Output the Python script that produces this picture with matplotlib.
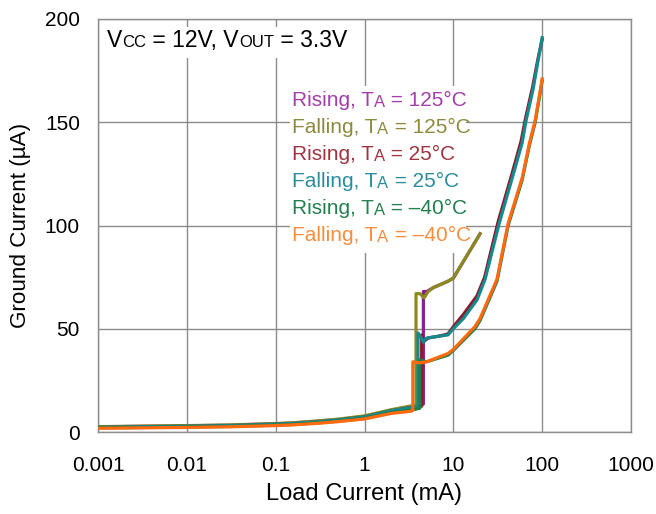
import matplotlib
matplotlib.use("Agg")
import matplotlib.pyplot as plt
from matplotlib.patches import Rectangle

plt.rcParams['font.family'] = ['Liberation Sans', 'DejaVu Sans']

# ---------------- data ----------------
x_ticks = [0.001, 0.01, 0.1, 1, 10, 100, 1000]
x_tick_labels = ["0.001", "0.01", "0.1", "1", "10", "100", "1000"]
y_ticks = [0, 50, 100, 150, 200]

low_x = [0.001, 0.01, 0.03, 0.1, 0.15, 0.3, 0.5, 1, 2, 3.5]

rise125_x = low_x + [4.6, 4.6, 5.0, 6, 8.7, 10, 20]
rise125_y = [2.5, 3.0, 3.3, 4.0, 4.3, 5.2, 6.0, 7.5, 10.5, 12.5,
             13.5, 68, 68, 70, 73, 74.5, 96]

fall125_x = low_x + [3.8, 3.8, 4.2, 4.7, 5.2, 6, 8.7, 10, 20]
fall125_y = [2.6, 3.1, 3.4, 4.1, 4.4, 5.4, 6.2, 7.8, 10.8, 12.8,
             13.0, 67, 67, 65, 68, 70, 73, 74.5, 96]

rise25_x = low_x + [4.4, 4.4, 4.7, 5.2, 7, 8.7, 10, 13, 18.5, 22.5, 32, 45, 58, 65, 78, 89, 100]
rise25_y = [2.2, 2.7, 3.0, 3.7, 4.0, 4.9, 5.7, 7.2, 10.2, 12.0,
            12.5, 47, 44, 45.5, 46.5, 47.5, 51, 57, 66, 75, 102, 124, 141, 152, 167, 180, 190]

fall25_x = low_x + [4.0, 4.0, 4.3, 4.6, 5.0, 6, 8.7, 10, 13, 18.5, 22.8, 32.8, 46, 59.5, 66, 79, 90, 100]
fall25_y = [2.3, 2.8, 3.1, 3.8, 4.1, 5.0, 5.8, 7.3, 10.3, 12.0,
            12.3, 48, 46, 43.5, 45.5, 46, 47, 50, 55, 64, 74, 101, 123, 140, 151, 166, 180, 191]

risem40_x = low_x + [4.2, 4.2, 5, 8.7, 10, 17.5, 20, 31, 41.4, 59.5, 72, 83.5, 100]
risem40_y = [2.0, 2.4, 2.7, 3.3, 3.6, 4.4, 5.2, 6.6, 9.4, 10.8,
             11.5, 35, 34, 37.2, 39.5, 50, 54, 73, 100, 122, 139, 150, 170]

fallm40_x = low_x[:-1] + [3.3, 3.5, 3.5, 4.2, 5, 8.7, 10, 17.5, 20, 31, 41.4, 59.5, 72, 83.5, 100]
fallm40_y = [1.8, 2.2, 2.5, 3.1, 3.4, 4.2, 5.0, 6.3, 9.0,
             10.0, 10.5, 34, 33.5, 34, 38, 40, 51, 55, 74, 101, 123, 140, 151, 171]

series = [
    ("Rising", "125", rise125_x, rise125_y, "#8E1C97", "#A23FA8"),
    ("Falling", "125", fall125_x, fall125_y, "#8A8A1E", "#8D8A3E"),
    ("Rising", "25", rise25_x, rise25_y, "#8A1A2C", "#A0333F"),
    ("Falling", "25", fall25_x, fall25_y, "#17898C", "#2A8D9E"),
    ("Rising", "\u201340", risem40_x, risem40_y, "#1C8045", "#23804F"),
    ("Falling", "\u201340", fallm40_x, fallm40_y, "#FF6A10", "#F98D3E"),
]

# ---------------- figure ----------------
W, H = 656, 514
fig = plt.figure(figsize=(W / 100, H / 100), dpi=100)
ax = fig.add_axes([98 / W, 1 - 432 / H, (631 - 98) / W, (432 - 19) / H])

for _, _, xs, ys, lc, _ in series:
    ax.plot(xs, ys, color=lc, lw=2.3, solid_joinstyle='round', zorder=3)

ax.set_xscale("log")
ax.set_xlim(0.001, 1000)
ax.set_ylim(0, 200)
ax.set_xticks(x_ticks)
ax.set_xticklabels(x_tick_labels)
ax.set_yticks(y_ticks)
ax.minorticks_off()
ax.tick_params(length=0, labelsize=15, colors="#000000")
ax.tick_params(axis='x', pad=17)
ax.tick_params(axis='y', pad=13)
ax.grid(True, color="#8C8C8C", lw=1.0, zorder=1)
ax.set_axisbelow(True)
for sp in ax.spines.values():
    sp.set_color("#8C8C8C")
    sp.set_linewidth(1.0)

ax.set_xlabel("Load Current (mA)", fontsize=17, labelpad=6)
ax.set_ylabel("Ground Current (\u00b5A)", fontsize=16.2, labelpad=10)

# white boxes hiding grid under annotations
def px_box(x0, y0, x1, y1):
    r = Rectangle((x0 / W, 1 - y1 / H), (x1 - x0) / W, (y1 - y0) / H,
                  transform=fig.transFigure, facecolor="white", edgecolor="none",
                  zorder=2)
    ax.add_artist(r)

px_box(101, 27, 350, 58)
px_box(290, 86, 466, 253)

renderer = fig.canvas.get_renderer()

def rich(x_px, y_px, pieces):
    x = x_px
    for s, size, dy, col in pieces:
        t = fig.text(x / W, 1 - (y_px - dy) / H, s, fontsize=size, color=col,
                     va="baseline", ha="left", zorder=5)
        x += t.get_window_extent(renderer).width

rich(107, 47, [("V", 16.5, 0, "black"), ("CC", 12, 0, "black"),
               (" = 12V, V", 16.5, 0, "black"), ("OUT", 12, 0, "black"),
               (" = 3.3V", 16.5, 0, "black")])

y0 = 106
for i, (kind, temp, _, _, _, tc) in enumerate(series):
    yb = y0 + i * 27
    rich(292, yb, [(kind + ", T", 15, 0, tc), ("A", 12, -1, tc),
                   (" = " + temp + "\u00b0C", 15, 0, tc)])

fig.savefig("out.png", dpi=100)
